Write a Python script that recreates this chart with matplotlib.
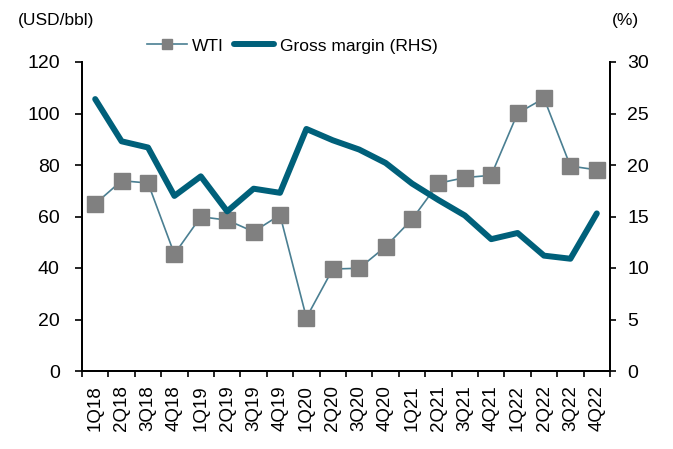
import matplotlib.pyplot as plt
import numpy as np

plt.rcParams["font.family"] = ["Liberation Sans", "DejaVu Sans"]

quarters = ["1Q18", "2Q18", "3Q18", "4Q18", "1Q19", "2Q19", "3Q19", "4Q19",
            "1Q20", "2Q20", "3Q20", "4Q20", "1Q21", "2Q21", "3Q21", "4Q21",
            "1Q22", "2Q22", "3Q22", "4Q22"]
wti = [64.9, 73.9, 73.0, 45.4, 59.9, 58.6, 54.1, 60.6,
       20.7, 39.6, 39.9, 48.3, 58.9, 72.9, 75.1, 76.0,
       100.1, 105.9, 79.6, 78.1]
gross_margin = [26.4, 22.3, 21.7, 17.0, 18.9, 15.5, 17.7, 17.3,
                23.5, 22.4, 21.5, 20.2, 18.2, 16.6, 15.1, 12.8,
                13.4, 11.2, 10.9, 15.3]

x = np.arange(len(quarters))

fig = plt.figure(figsize=(6.73, 4.49), dpi=100)
ax = fig.add_axes([82 / 673, 1 - 371 / 449, (610 - 82) / 673, (371 - 62) / 449])
ax2 = ax.twinx()

l1, = ax.plot(x, wti, color="#4A7F92", lw=1.2, marker="s", ms=11.5,
              mfc="#808080", mec="#808080", label="WTI")
l2, = ax2.plot(x, gross_margin, color="#00607A", lw=4.3,
               solid_capstyle="round", label="Gross margin (RHS)")

ax.set_xlim(-0.5, len(quarters) - 0.5)
ax.set_ylim(0, 120)
ax.set_yticks(range(0, 121, 20))
ax2.set_ylim(0, 30)
ax2.set_yticks(range(0, 31, 5))

ax.set_xticks(x, labels=quarters, rotation=90, fontsize=13.5)
ax.set_xticks(np.arange(-0.5, len(quarters)), minor=True)
ax.tick_params(axis="x", which="major", length=0, pad=10)
ax.tick_params(axis="x", which="minor", length=4.5, width=1.2, direction="out")
ax.tick_params(axis="y", labelsize=14, length=5, width=1.2, pad=11, direction="out")
ax2.tick_params(axis="y", labelsize=14, length=4, width=1.2, pad=8.5, direction="out")

for a in (ax, ax2):
    a.spines["top"].set_visible(False)
    for s in ("left", "right", "bottom"):
        a.spines[s].set_linewidth(1.3)

fig.text(18 / 673, 1 - 20 / 449, "(USD/bbl)", fontsize=12.5, va="center", ha="left")
fig.text(612 / 673, 1 - 20 / 449, "(%)", fontsize=12.5, va="center", ha="left")

fig.legend(handles=[l1, l2], loc="center left", bbox_to_anchor=(140 / 673, 1 - 46 / 449),
           ncol=2, frameon=False, fontsize=12.5, handlelength=2.3, handletextpad=0.3,
           columnspacing=0.6, markerscale=0.6, borderaxespad=0)

fig.savefig("out.png", dpi=100)
